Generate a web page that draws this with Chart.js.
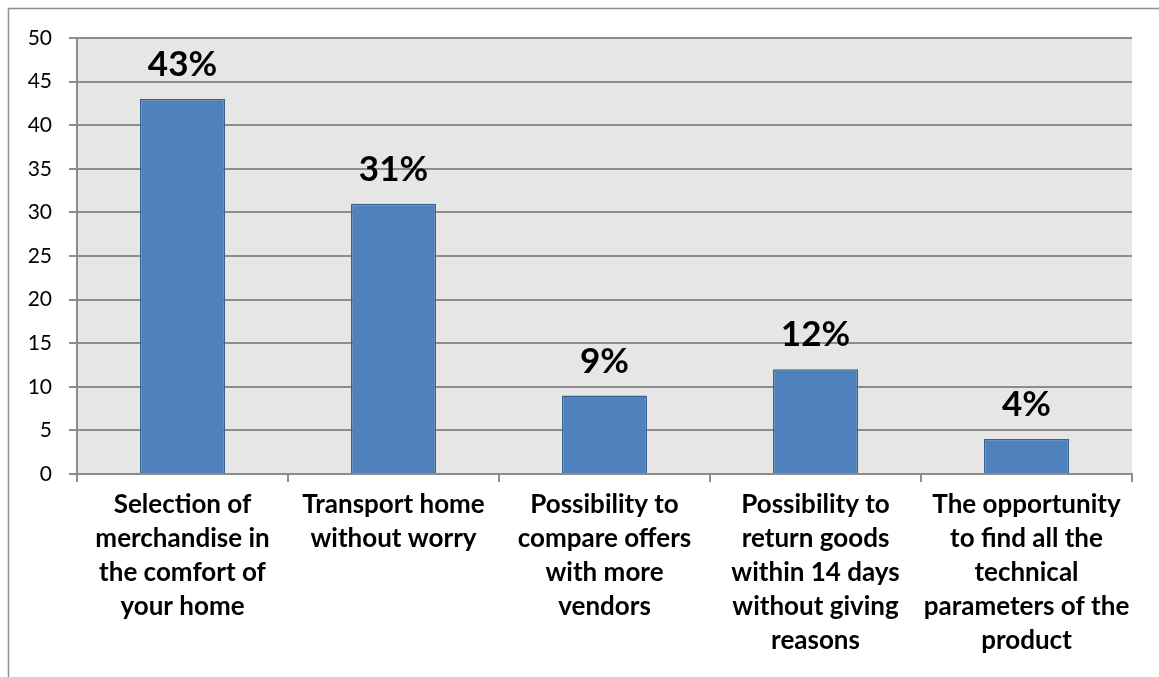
<!DOCTYPE html>
<html>
<head>
<meta charset="utf-8">
<script src="https://cdn.jsdelivr.net/npm/chart.js@4"></script>
<style>
  html, body { margin: 0; padding: 0; background: #ffffff; }
  #wrap { position: relative; width: 1159px; height: 677px; }
</style>
</head>
<body>
<div id="wrap"><canvas id="chart" width="1159" height="677"></canvas></div>
<script>
// Reasons for shopping online (share of respondents, %)
const categories = [
  ["Selection of", "merchandise in", "the comfort of", "your home"],
  ["Transport home", "without worry"],
  ["Possibility to", "compare offers", "with more", "vendors"],
  ["Possibility to", "return goods", "within 14 days", "without giving", "reasons"],
  ["The opportunity", "to find all the", "technical", "parameters of the", "product"]
];
const shares = [43, 31, 9, 12, 4];
const valueLabels = ["43%", "31%", "9%", "12%", "4%"];
const yTicks = [0, 5, 10, 15, 20, 25, 30, 35, 40, 45, 50];

const FONT = "Lato, 'Open Sans', 'Liberation Sans', sans-serif";
const GRID = "#8c8c8c";

// Outer frame and grey plot background
const framePlugin = {
  id: "frame",
  beforeDraw(chart) {
    const { ctx, chartArea: a } = chart;
    ctx.save();
    ctx.fillStyle = "#e6e6e6";
    ctx.fillRect(a.left, a.top, a.right - a.left, a.bottom - a.top);
    ctx.strokeStyle = "#8f8f8f";
    ctx.lineWidth = 1.5;
    ctx.beginPath();
    ctx.moveTo(8.5, chart.height);
    ctx.lineTo(8.5, 8.5);
    ctx.lineTo(chart.width, 8.5);
    ctx.stroke();
    ctx.restore();
  }
};

// Percentage labels above each bar
const valueLabelPlugin = {
  id: "valueLabels",
  afterDatasetsDraw(chart) {
    const { ctx } = chart;
    const meta = chart.getDatasetMeta(0);
    ctx.save();
    ctx.font = "bold 35px " + FONT;
    ctx.fillStyle = "#000000";
    ctx.textAlign = "center";
    ctx.textBaseline = "alphabetic";
    meta.data.forEach((bar, i) => {
      ctx.fillText(valueLabels[i], bar.x, bar.y - 23);
    });
    ctx.restore();
  }
};

new Chart(document.getElementById("chart"), {
  type: "bar",
  data: {
    labels: categories,
    datasets: [{
      data: shares,
      backgroundColor: "#4f81bd",
      borderColor: "#3b6190",
      borderWidth: 1.5,
      categoryPercentage: 1.0,
      barPercentage: 0.403
    }]
  },
  options: {
    responsive: false,
    animation: false,
    events: [],
    layout: { padding: { top: 38, right: 27, left: 0, bottom: 0 } },
    plugins: {
      legend: { display: false },
      tooltip: { enabled: false },
      title: { display: false }
    },
    scales: {
      x: {
        grid: {
          display: true,
          drawOnChartArea: false,
          drawTicks: true,
          tickLength: 8,
          color: GRID,
          lineWidth: 2
        },
        border: { display: true, color: GRID, width: 2 },
        ticks: {
          color: "#000000",
          font: { family: FONT, size: 26, weight: "bold", lineHeight: "34px" },
          padding: 6,
          maxRotation: 0,
          minRotation: 0,
          autoSkip: false
        },
        afterFit(scale) { scale.height = 203; }
      },
      y: {
        min: 0,
        max: 50,
        afterBuildTicks(scale) { scale.ticks = yTicks.map(v => ({ value: v })); },
        grid: {
          color: GRID,
          lineWidth: 2,
          drawTicks: true,
          tickLength: 8
        },
        border: { display: true, color: GRID, width: 2 },
        ticks: {
          color: "#000000",
          font: { family: FONT, size: 21 },
          padding: 17
        },
        afterFit(scale) { scale.width = 77; }
      }
    }
  },
  plugins: [framePlugin, valueLabelPlugin]
});
</script>
</body>
</html>
